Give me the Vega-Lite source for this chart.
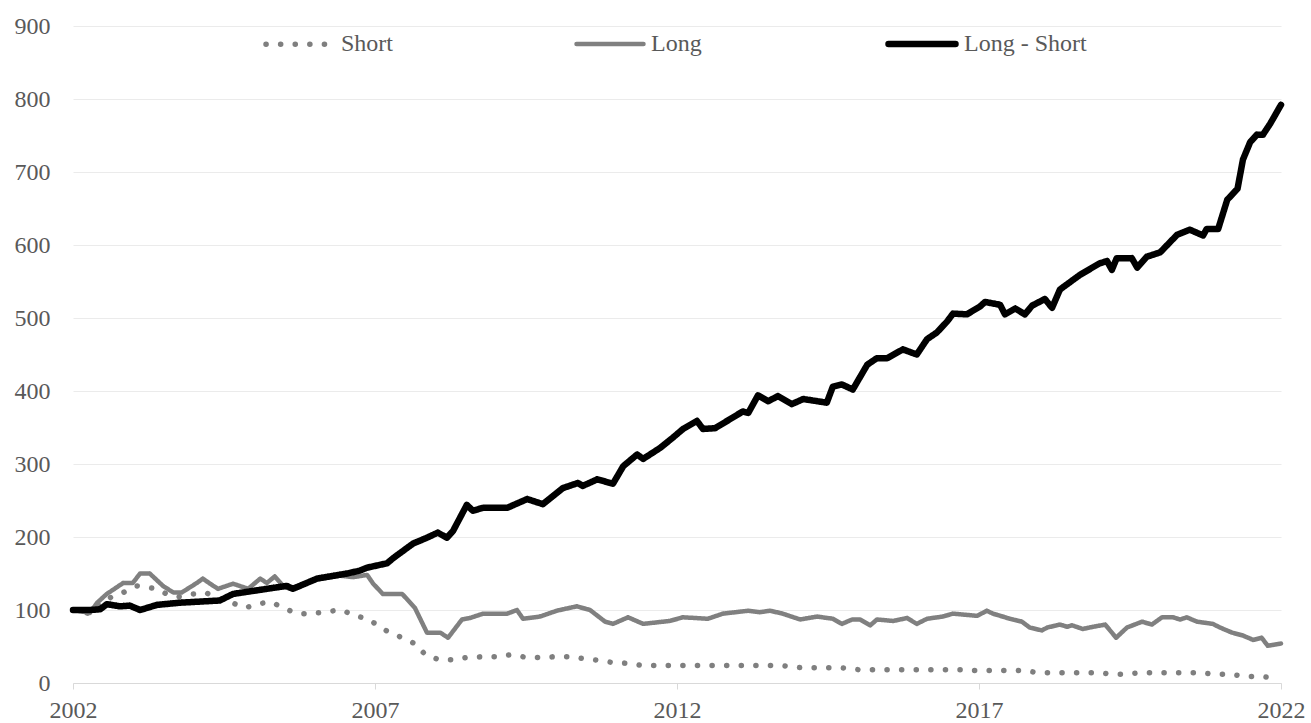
{
  "$schema": "https://vega.github.io/schema/vega-lite/v6.json",
  "autosize": {"type": "none"},
  "padding": {"left": 73, "top": 26, "right": 30, "bottom": 40},
  "width": 1208,
  "height": 657,
  "background": "#ffffff",
  "config": {
    "view": {"stroke": null},
    "font": "Liberation Serif"
  },
  "data": {"values": [
    {"s":"Short","t":2002.00,"v":100},{"s":"Short","t":2002.28,"v":95},{"s":"Short","t":2002.50,"v":113},{"s":"Short","t":2002.86,"v":125},{"s":"Short","t":2003.06,"v":133},{"s":"Short","t":2003.39,"v":129},{"s":"Short","t":2003.57,"v":121},{"s":"Short","t":2003.77,"v":118},{"s":"Short","t":2003.99,"v":122},{"s":"Short","t":2004.19,"v":124},{"s":"Short","t":2004.43,"v":115},{"s":"Short","t":2004.63,"v":110},{"s":"Short","t":2004.85,"v":103},{"s":"Short","t":2005.10,"v":109},{"s":"Short","t":2005.29,"v":111},{"s":"Short","t":2005.49,"v":102},{"s":"Short","t":2005.73,"v":95},{"s":"Short","t":2005.97,"v":95},{"s":"Short","t":2006.21,"v":98},{"s":"Short","t":2006.45,"v":100},{"s":"Short","t":2006.67,"v":92},{"s":"Short","t":2006.88,"v":88},{"s":"Short","t":2007.08,"v":77},{"s":"Short","t":2007.26,"v":68},{"s":"Short","t":2007.46,"v":62},{"s":"Short","t":2007.68,"v":53},{"s":"Short","t":2007.84,"v":38},{"s":"Short","t":2008.06,"v":32},{"s":"Short","t":2008.29,"v":32},{"s":"Short","t":2008.52,"v":35},{"s":"Short","t":2008.79,"v":36},{"s":"Short","t":2009.02,"v":36},{"s":"Short","t":2009.27,"v":39},{"s":"Short","t":2009.50,"v":35},{"s":"Short","t":2009.75,"v":35},{"s":"Short","t":2009.98,"v":36},{"s":"Short","t":2010.23,"v":36},{"s":"Short","t":2010.48,"v":33},{"s":"Short","t":2010.71,"v":31},{"s":"Short","t":2010.94,"v":28},{"s":"Short","t":2011.19,"v":27},{"s":"Short","t":2011.42,"v":24},{"s":"Short","t":2012.38,"v":24},{"s":"Short","t":2013.71,"v":24},{"s":"Short","t":2014.04,"v":21},{"s":"Short","t":2014.70,"v":21},{"s":"Short","t":2015.03,"v":18},{"s":"Short","t":2016.69,"v":18},{"s":"Short","t":2016.77,"v":17},{"s":"Short","t":2017.76,"v":17},{"s":"Short","t":2017.98,"v":14},{"s":"Short","t":2019.00,"v":14},{"s":"Short","t":2019.22,"v":12},{"s":"Short","t":2019.42,"v":12},{"s":"Short","t":2019.67,"v":14},{"s":"Short","t":2020.66,"v":14},{"s":"Short","t":2020.91,"v":12},{"s":"Short","t":2021.16,"v":12},{"s":"Short","t":2021.41,"v":9},{"s":"Short","t":2021.66,"v":9},{"s":"Short","t":2021.87,"v":7},
    {"s":"Long","t":2002.00,"v":100},{"s":"Long","t":2002.28,"v":96},{"s":"Long","t":2002.40,"v":110},{"s":"Long","t":2002.56,"v":122},{"s":"Long","t":2002.83,"v":137},{"s":"Long","t":2002.99,"v":137},{"s":"Long","t":2003.11,"v":150},{"s":"Long","t":2003.27,"v":150},{"s":"Long","t":2003.49,"v":133},{"s":"Long","t":2003.66,"v":124},{"s":"Long","t":2003.80,"v":124},{"s":"Long","t":2004.05,"v":137},{"s":"Long","t":2004.15,"v":143},{"s":"Long","t":2004.27,"v":136},{"s":"Long","t":2004.40,"v":129},{"s":"Long","t":2004.65,"v":136},{"s":"Long","t":2004.76,"v":133},{"s":"Long","t":2004.90,"v":129},{"s":"Long","t":2005.10,"v":143},{"s":"Long","t":2005.21,"v":137},{"s":"Long","t":2005.34,"v":146},{"s":"Long","t":2005.48,"v":133},{"s":"Long","t":2005.59,"v":129},{"s":"Long","t":2006.04,"v":142},{"s":"Long","t":2006.42,"v":147},{"s":"Long","t":2006.64,"v":145},{"s":"Long","t":2006.87,"v":148},{"s":"Long","t":2006.97,"v":136},{"s":"Long","t":2007.13,"v":122},{"s":"Long","t":2007.30,"v":122},{"s":"Long","t":2007.45,"v":122},{"s":"Long","t":2007.66,"v":103},{"s":"Long","t":2007.86,"v":69},{"s":"Long","t":2008.08,"v":69},{"s":"Long","t":2008.21,"v":62},{"s":"Long","t":2008.44,"v":87},{"s":"Long","t":2008.57,"v":89},{"s":"Long","t":2008.79,"v":95},{"s":"Long","t":2009.19,"v":95},{"s":"Long","t":2009.35,"v":100},{"s":"Long","t":2009.45,"v":88},{"s":"Long","t":2009.73,"v":91},{"s":"Long","t":2010.01,"v":99},{"s":"Long","t":2010.34,"v":105},{"s":"Long","t":2010.56,"v":100},{"s":"Long","t":2010.81,"v":84},{"s":"Long","t":2010.94,"v":81},{"s":"Long","t":2011.19,"v":90},{"s":"Long","t":2011.44,"v":81},{"s":"Long","t":2011.88,"v":85},{"s":"Long","t":2012.10,"v":90},{"s":"Long","t":2012.51,"v":88},{"s":"Long","t":2012.76,"v":95},{"s":"Long","t":2013.18,"v":99},{"s":"Long","t":2013.37,"v":97},{"s":"Long","t":2013.54,"v":99},{"s":"Long","t":2013.75,"v":95},{"s":"Long","t":2014.04,"v":87},{"s":"Long","t":2014.32,"v":91},{"s":"Long","t":2014.58,"v":88},{"s":"Long","t":2014.73,"v":81},{"s":"Long","t":2014.90,"v":87},{"s":"Long","t":2015.03,"v":87},{"s":"Long","t":2015.20,"v":79},{"s":"Long","t":2015.31,"v":87},{"s":"Long","t":2015.58,"v":85},{"s":"Long","t":2015.81,"v":89},{"s":"Long","t":2015.97,"v":81},{"s":"Long","t":2016.14,"v":88},{"s":"Long","t":2016.40,"v":91},{"s":"Long","t":2016.57,"v":95},{"s":"Long","t":2016.97,"v":92},{"s":"Long","t":2017.13,"v":99},{"s":"Long","t":2017.23,"v":95},{"s":"Long","t":2017.51,"v":88},{"s":"Long","t":2017.71,"v":84},{"s":"Long","t":2017.84,"v":76},{"s":"Long","t":2018.04,"v":72},{"s":"Long","t":2018.13,"v":76},{"s":"Long","t":2018.34,"v":80},{"s":"Long","t":2018.46,"v":77},{"s":"Long","t":2018.54,"v":79},{"s":"Long","t":2018.72,"v":74},{"s":"Long","t":2018.89,"v":77},{"s":"Long","t":2019.09,"v":80},{"s":"Long","t":2019.27,"v":62},{"s":"Long","t":2019.45,"v":76},{"s":"Long","t":2019.70,"v":84},{"s":"Long","t":2019.86,"v":80},{"s":"Long","t":2020.03,"v":90},{"s":"Long","t":2020.21,"v":90},{"s":"Long","t":2020.33,"v":87},{"s":"Long","t":2020.44,"v":90},{"s":"Long","t":2020.61,"v":84},{"s":"Long","t":2020.87,"v":81},{"s":"Long","t":2020.99,"v":76},{"s":"Long","t":2021.19,"v":69},{"s":"Long","t":2021.37,"v":65},{"s":"Long","t":2021.54,"v":59},{"s":"Long","t":2021.68,"v":62},{"s":"Long","t":2021.78,"v":51},{"s":"Long","t":2022.00,"v":54},
    {"s":"Long - Short","t":2002.00,"v":100},{"s":"Long - Short","t":2002.28,"v":100},{"s":"Long - Short","t":2002.45,"v":101},{"s":"Long - Short","t":2002.56,"v":108},{"s":"Long - Short","t":2002.78,"v":105},{"s":"Long - Short","t":2002.94,"v":106},{"s":"Long - Short","t":2003.11,"v":100},{"s":"Long - Short","t":2003.39,"v":107},{"s":"Long - Short","t":2003.77,"v":110},{"s":"Long - Short","t":2004.43,"v":113},{"s":"Long - Short","t":2004.65,"v":122},{"s":"Long - Short","t":2005.21,"v":129},{"s":"Long - Short","t":2005.54,"v":133},{"s":"Long - Short","t":2005.64,"v":129},{"s":"Long - Short","t":2006.04,"v":143},{"s":"Long - Short","t":2006.54,"v":150},{"s":"Long - Short","t":2006.75,"v":154},{"s":"Long - Short","t":2006.87,"v":158},{"s":"Long - Short","t":2007.20,"v":164},{"s":"Long - Short","t":2007.30,"v":171},{"s":"Long - Short","t":2007.63,"v":191},{"s":"Long - Short","t":2007.86,"v":199},{"s":"Long - Short","t":2008.04,"v":206},{"s":"Long - Short","t":2008.19,"v":199},{"s":"Long - Short","t":2008.29,"v":208},{"s":"Long - Short","t":2008.52,"v":244},{"s":"Long - Short","t":2008.62,"v":236},{"s":"Long - Short","t":2008.79,"v":240},{"s":"Long - Short","t":2009.19,"v":240},{"s":"Long - Short","t":2009.52,"v":252},{"s":"Long - Short","t":2009.78,"v":245},{"s":"Long - Short","t":2010.11,"v":267},{"s":"Long - Short","t":2010.36,"v":274},{"s":"Long - Short","t":2010.44,"v":270},{"s":"Long - Short","t":2010.68,"v":279},{"s":"Long - Short","t":2010.94,"v":273},{"s":"Long - Short","t":2011.11,"v":297},{"s":"Long - Short","t":2011.34,"v":313},{"s":"Long - Short","t":2011.44,"v":307},{"s":"Long - Short","t":2011.72,"v":322},{"s":"Long - Short","t":2011.93,"v":336},{"s":"Long - Short","t":2012.10,"v":348},{"s":"Long - Short","t":2012.33,"v":359},{"s":"Long - Short","t":2012.43,"v":348},{"s":"Long - Short","t":2012.63,"v":349},{"s":"Long - Short","t":2012.91,"v":363},{"s":"Long - Short","t":2013.09,"v":372},{"s":"Long - Short","t":2013.18,"v":370},{"s":"Long - Short","t":2013.34,"v":394},{"s":"Long - Short","t":2013.51,"v":386},{"s":"Long - Short","t":2013.67,"v":393},{"s":"Long - Short","t":2013.90,"v":382},{"s":"Long - Short","t":2014.09,"v":389},{"s":"Long - Short","t":2014.48,"v":384},{"s":"Long - Short","t":2014.58,"v":406},{"s":"Long - Short","t":2014.73,"v":409},{"s":"Long - Short","t":2014.91,"v":402},{"s":"Long - Short","t":2015.15,"v":436},{"s":"Long - Short","t":2015.31,"v":445},{"s":"Long - Short","t":2015.48,"v":445},{"s":"Long - Short","t":2015.74,"v":457},{"s":"Long - Short","t":2015.97,"v":450},{"s":"Long - Short","t":2016.14,"v":471},{"s":"Long - Short","t":2016.30,"v":480},{"s":"Long - Short","t":2016.47,"v":495},{"s":"Long - Short","t":2016.57,"v":506},{"s":"Long - Short","t":2016.80,"v":505},{"s":"Long - Short","t":2017.02,"v":516},{"s":"Long - Short","t":2017.10,"v":522},{"s":"Long - Short","t":2017.35,"v":518},{"s":"Long - Short","t":2017.43,"v":505},{"s":"Long - Short","t":2017.60,"v":513},{"s":"Long - Short","t":2017.76,"v":505},{"s":"Long - Short","t":2017.88,"v":517},{"s":"Long - Short","t":2018.09,"v":526},{"s":"Long - Short","t":2018.21,"v":514},{"s":"Long - Short","t":2018.34,"v":539},{"s":"Long - Short","t":2018.67,"v":559},{"s":"Long - Short","t":2019.00,"v":575},{"s":"Long - Short","t":2019.12,"v":578},{"s":"Long - Short","t":2019.20,"v":566},{"s":"Long - Short","t":2019.28,"v":582},{"s":"Long - Short","t":2019.53,"v":582},{"s":"Long - Short","t":2019.62,"v":569},{"s":"Long - Short","t":2019.78,"v":584},{"s":"Long - Short","t":2020.00,"v":590},{"s":"Long - Short","t":2020.28,"v":614},{"s":"Long - Short","t":2020.49,"v":621},{"s":"Long - Short","t":2020.71,"v":613},{"s":"Long - Short","t":2020.77,"v":622},{"s":"Long - Short","t":2020.96,"v":622},{"s":"Long - Short","t":2021.11,"v":662},{"s":"Long - Short","t":2021.28,"v":677},{"s":"Long - Short","t":2021.37,"v":717},{"s":"Long - Short","t":2021.49,"v":741},{"s":"Long - Short","t":2021.60,"v":751},{"s":"Long - Short","t":2021.70,"v":751},{"s":"Long - Short","t":2021.82,"v":766},{"s":"Long - Short","t":2022.00,"v":792}
  ]},
  "encoding": {
    "x": {
      "field": "t", "type": "quantitative",
      "scale": {"domain": [2002, 2022], "nice": false, "zero": false},
      "axis": {
        "title": null, "values": [2002, 2007, 2012, 2017, 2022], "format": "d",
        "grid": false, "domainColor": "#d9d9d9", "domainWidth": 1,
        "tickColor": "#d9d9d9", "tickSize": 6, "labelPadding": 9,
        "labelFont": "Liberation Serif", "labelFontSize": 24, "labelColor": "#595959",
        "labelFlush": false
      }
    },
    "y": {
      "field": "v", "type": "quantitative",
      "scale": {"domain": [0, 900], "nice": false},
      "axis": {
        "title": null, "values": [0, 100, 200, 300, 400, 500, 600, 700, 800, 900],
        "domain": false, "ticks": false, "labelPadding": 23,
        "grid": true, "gridColor": "#ebebeb", "gridWidth": 1,
        "labelFont": "Liberation Serif", "labelFontSize": 24, "labelColor": "#595959"
      }
    },
    "color": {
      "field": "s", "type": "nominal",
      "scale": {"domain": ["Short", "Long", "Long - Short"], "range": ["#7f7f7f", "#808080", "#000000"]},
      "legend": {
        "title": null, "orient": "none", "legendX": 190, "legendY": -19,
        "direction": "horizontal", "gridAlign": "all", "columnPadding": 99,
        "symbolType": "stroke", "symbolSize": 4489, "labelOffset": 5,
        "labelFont": "Liberation Serif", "labelFontSize": 24, "labelColor": "#595959",
        "padding": 0,
        "encode": {"symbols": {"update": {"strokeCap": {"value": "round"}}}}
      }
    },
    "strokeDash": {
      "field": "s", "type": "nominal",
      "scale": {"domain": ["Short", "Long", "Long - Short"], "range": [[0.1, 14.5], [1, 0], [1, 0]]}
    },
    "strokeWidth": {
      "field": "s", "type": "nominal",
      "scale": {"type": "ordinal", "domain": ["Short", "Long", "Long - Short"], "range": [5.5, 4.5, 6.5]}
    }
  },
  "layer": [
    {"transform": [{"filter": "datum.s === 'Short'"}], "mark": {"type": "line", "strokeCap": "round", "strokeJoin": "round"}},
    {"transform": [{"filter": "datum.s === 'Long'"}], "mark": {"type": "line", "strokeCap": "round", "strokeJoin": "round"}},
    {"transform": [{"filter": "datum.s === 'Long - Short'"}], "mark": {"type": "line", "strokeCap": "round", "strokeJoin": "round"}}
  ]
}
